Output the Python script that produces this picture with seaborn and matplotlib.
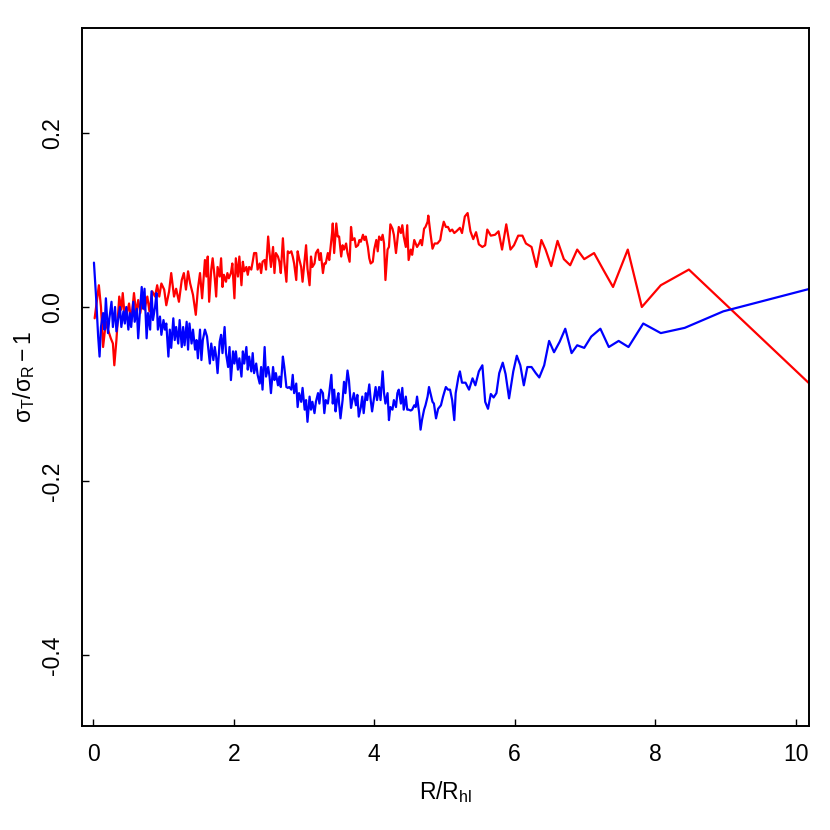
import numpy as np
import pandas as pd
import matplotlib
matplotlib.use("Agg")
import matplotlib.pyplot as plt
import seaborn as sns

# ─────────────────────────────────────────────
# Data (R / R_hl vs sigma_T/sigma_R - 1)
# ─────────────────────────────────────────────

red_r = [
    0.02, 0.08, 0.11, 0.14, 0.18, 0.21, 0.25, 0.28, 0.30, 0.33, 0.37, 0.40,
    0.42, 0.45, 0.48, 0.51, 0.54, 0.58, 0.61, 0.64, 0.67, 0.70, 0.73, 0.77,
    0.80, 0.84, 0.88, 0.91, 0.94, 0.97, 1.01, 1.04, 1.08, 1.11, 1.15, 1.18,
    1.22, 1.26, 1.29, 1.32, 1.35, 1.38, 1.42, 1.46, 1.49, 1.52, 1.55,
    1.59, 1.61, 1.63, 1.65, 1.68, 1.70, 1.73, 1.75, 1.77, 1.80, 1.82, 1.84,
    1.86, 1.89, 1.91, 1.93, 1.96, 1.98, 2.01, 2.03, 2.06, 2.08, 2.11, 2.13,
    2.15, 2.18, 2.20, 2.22, 2.25, 2.27, 2.29, 2.32, 2.34, 2.37, 2.39, 2.41,
    2.44, 2.46, 2.49, 2.51, 2.53, 2.56, 2.58, 2.60, 2.63, 2.65, 2.67, 2.70,
    2.72, 2.75, 2.77, 2.79, 2.82, 2.84, 2.86, 2.89, 2.91, 2.93, 2.96, 2.98,
    3.01, 3.03, 3.05, 3.08, 3.10, 3.12, 3.15, 3.17, 3.20, 3.22, 3.24, 3.27,
    3.29, 3.31, 3.34, 3.36,
    3.40, 3.41, 3.43, 3.46, 3.48, 3.50, 3.53, 3.55, 3.57, 3.60, 3.62, 3.65,
    3.67, 3.69, 3.72, 3.74, 3.77, 3.79, 3.81, 3.84, 3.86, 3.88, 3.91, 3.93,
    3.95, 3.98, 4.00, 4.03, 4.05, 4.07, 4.10, 4.12, 4.14, 4.16, 4.19, 4.21,
    4.23, 4.26, 4.28, 4.31, 4.33, 4.35, 4.38, 4.40, 4.42, 4.45, 4.47, 4.49,
    4.52, 4.54, 4.57, 4.59, 4.61, 4.64, 4.66, 4.68, 4.71, 4.73, 4.76, 4.77,
    4.80, 4.83, 4.86, 4.90, 4.94, 4.96, 4.99, 5.02, 5.05, 5.08, 5.11, 5.14,
    5.17, 5.22, 5.25, 5.29, 5.33, 5.37, 5.41, 5.45, 5.49, 5.54, 5.58, 5.61,
    5.66, 5.72, 5.77, 5.82, 5.88, 5.94, 5.99, 6.05, 6.11, 6.16, 6.24, 6.31,
    6.38, 6.44, 6.52, 6.61, 6.70, 6.79, 6.89, 6.99, 7.13, 7.26, 7.40, 7.61,
    7.81, 8.08, 8.48, 10.30,
]
red_y = [
    -0.013, 0.025, 0.000, -0.046, -0.017, -0.026, -0.036, -0.042, -0.067, -0.038, 0.012, -0.003,
    0.016, -0.013, -0.007, 0.004, -0.017, 0.016, -0.007, 0.008, -0.007, 0.010, -0.003, 0.012,
    -0.005, 0.018, 0.012, 0.025, 0.012, 0.027, 0.020, 0.002, 0.018, 0.039, 0.012, 0.021,
    0.006, 0.031, 0.039, 0.020, 0.041, 0.027, 0.014, -0.009, 0.021, 0.039, 0.010,
    0.054, 0.035, 0.058, 0.006, 0.043, 0.056, 0.033, 0.012, 0.046, 0.035, 0.056, 0.023,
    0.037, 0.029, 0.039, 0.033, 0.039, 0.050, 0.010, 0.056, 0.035, 0.058, 0.025, 0.052,
    0.041, 0.046, 0.037, 0.046, 0.043, 0.052, 0.062, 0.062, 0.043, 0.050, 0.039, 0.052,
    0.054, 0.043, 0.081, 0.062, 0.046, 0.069, 0.039, 0.062, 0.058, 0.052, 0.039, 0.079,
    0.052, 0.029, 0.064, 0.062, 0.064, 0.058, 0.050, 0.031, 0.064, 0.056, 0.046, 0.029,
    0.054, 0.071, 0.044, 0.025, 0.058, 0.046, 0.050, 0.062, 0.066, 0.054, 0.062, 0.039,
    0.050, 0.050, 0.062, 0.054,
    0.085, 0.096, 0.062, 0.096, 0.081, 0.081, 0.058, 0.071, 0.066, 0.073, 0.062, 0.052,
    0.092, 0.077, 0.079, 0.069, 0.071, 0.077, 0.075, 0.083, 0.077, 0.081, 0.069, 0.056,
    0.050, 0.052, 0.066, 0.077, 0.064, 0.081, 0.077, 0.083, 0.073, 0.031, 0.066, 0.069,
    0.095, 0.090, 0.083, 0.062, 0.077, 0.092, 0.085, 0.094, 0.081, 0.069, 0.094, 0.054,
    0.066, 0.060, 0.077, 0.073, 0.069, 0.073, 0.077, 0.071, 0.090, 0.092, 0.098, 0.105,
    0.085, 0.067, 0.073, 0.073, 0.077, 0.087, 0.098, 0.092, 0.092, 0.087, 0.089, 0.085,
    0.087, 0.091, 0.085, 0.104, 0.108, 0.087, 0.078, 0.086, 0.072, 0.069, 0.071, 0.089,
    0.082, 0.083, 0.087, 0.066, 0.095, 0.066, 0.071, 0.082, 0.082, 0.073, 0.069, 0.046,
    0.077, 0.066, 0.047, 0.076, 0.055, 0.048, 0.066, 0.055, 0.062, 0.043, 0.023, 0.066,
    0.000, 0.025, 0.043, -0.096,
]

blue_r = [
    0.01, 0.04, 0.07, 0.09, 0.11, 0.14, 0.16, 0.18, 0.21, 0.23, 0.26, 0.28,
    0.31, 0.33, 0.36, 0.38, 0.40, 0.43, 0.45, 0.47, 0.50, 0.52, 0.54, 0.57,
    0.59, 0.62, 0.64, 0.66, 0.69, 0.71, 0.73, 0.76, 0.78, 0.81, 0.83, 0.85,
    0.88, 0.90, 0.92, 0.95, 0.97, 1.00, 1.02, 1.04, 1.07, 1.09, 1.11, 1.14,
    1.16, 1.18, 1.21, 1.23, 1.26, 1.28, 1.30, 1.33, 1.35, 1.37, 1.40, 1.42,
    1.45, 1.47, 1.49, 1.52, 1.54, 1.56,
    1.59, 1.62, 1.64, 1.66, 1.68, 1.71, 1.73, 1.75, 1.77, 1.80, 1.82, 1.84,
    1.87, 1.89, 1.92, 1.94, 1.96, 1.99, 2.01, 2.03, 2.06, 2.08, 2.11, 2.13,
    2.15, 2.18, 2.20, 2.22, 2.25, 2.27, 2.29, 2.32, 2.34, 2.37, 2.39, 2.41,
    2.44, 2.46, 2.49, 2.51, 2.53, 2.56, 2.58, 2.60, 2.63, 2.65, 2.67, 2.70,
    2.72, 2.75, 2.77, 2.79, 2.82, 2.84, 2.86, 2.89, 2.91, 2.93, 2.96, 2.98,
    3.01, 3.03, 3.05, 3.08, 3.10, 3.12, 3.15, 3.17, 3.20, 3.22, 3.24, 3.27,
    3.29, 3.31, 3.34, 3.36,
    3.39, 3.41, 3.43, 3.45, 3.47, 3.49, 3.50, 3.52, 3.55, 3.57, 3.59, 3.62,
    3.64, 3.67, 3.69, 3.71, 3.74, 3.76, 3.78, 3.81, 3.83, 3.85, 3.88, 3.90,
    3.93, 3.95, 3.97, 4.00, 4.02, 4.04, 4.07, 4.09, 4.12, 4.14, 4.16, 4.19,
    4.21, 4.23, 4.26, 4.28, 4.31, 4.33, 4.35, 4.38, 4.40, 4.42, 4.45, 4.47,
    4.49, 4.52, 4.54, 4.57, 4.59, 4.61, 4.64, 4.66, 4.68, 4.71, 4.73, 4.76,
    4.78, 4.80, 4.83, 4.85, 4.88, 4.91, 4.95, 4.98, 5.02, 5.05, 5.08, 5.11,
    5.14, 5.16, 5.20, 5.22, 5.25, 5.30, 5.35, 5.40, 5.44, 5.49, 5.54, 5.58,
    5.62, 5.66, 5.70, 5.74, 5.78, 5.83, 5.87, 5.92, 5.98, 6.03, 6.08, 6.13,
    6.18, 6.24, 6.30, 6.35, 6.42, 6.49, 6.56, 6.64, 6.72, 6.81, 6.89, 6.99,
    7.09, 7.22, 7.34, 7.48, 7.62, 7.83, 8.08, 8.42, 8.97, 10.30,
]
blue_y = [
    0.051, 0.012, -0.034, -0.057, -0.023, -0.007, -0.026, 0.010, -0.030, -0.013, 0.006, -0.023,
    0.000, -0.028, -0.011, 0.000, -0.023, -0.005, -0.019, 0.000, -0.026, -0.007, -0.023, 0.006,
    -0.017, -0.002, -0.036, -0.011, 0.023, -0.002, 0.021, -0.036, -0.007, -0.026, 0.018, -0.015,
    0.000, 0.016, -0.026, -0.011, -0.032, -0.015, -0.026, -0.019, -0.057, -0.026, -0.047, -0.013,
    -0.038, -0.023, -0.042, -0.015, -0.046, -0.023, -0.044, -0.017, -0.049, -0.019, -0.042, -0.026,
    -0.049, -0.038, -0.059, -0.026, -0.061, -0.038,
    -0.026, -0.034, -0.049, -0.065, -0.042, -0.061, -0.046, -0.057, -0.076, -0.040, -0.032, -0.053,
    -0.023, -0.053, -0.069, -0.046, -0.084, -0.051, -0.065, -0.051, -0.072, -0.059, -0.080, -0.051,
    -0.065, -0.046, -0.072, -0.057, -0.074, -0.053, -0.076, -0.065, -0.078, -0.088, -0.069, -0.095,
    -0.046, -0.080, -0.069, -0.080, -0.099, -0.069, -0.084, -0.076, -0.090, -0.080, -0.092, -0.057,
    -0.069, -0.092, -0.093, -0.092, -0.095, -0.078, -0.099, -0.088, -0.115, -0.099, -0.109, -0.093,
    -0.118, -0.107, -0.132, -0.103, -0.118, -0.109, -0.122, -0.109, -0.099, -0.111, -0.095, -0.099,
    -0.122, -0.107, -0.111, -0.099,
    -0.078, -0.111, -0.095, -0.120, -0.107, -0.099, -0.111, -0.128, -0.107, -0.086, -0.099, -0.073,
    -0.084, -0.116, -0.107, -0.099, -0.113, -0.101, -0.126, -0.115, -0.103, -0.122, -0.099, -0.107,
    -0.089, -0.107, -0.120, -0.103, -0.092, -0.107, -0.092, -0.107, -0.074, -0.099, -0.111, -0.099,
    -0.130, -0.115, -0.118, -0.107, -0.115, -0.099, -0.095, -0.111, -0.093, -0.118, -0.103, -0.118,
    -0.118, -0.119, -0.118, -0.113, -0.115, -0.103, -0.122, -0.141, -0.130, -0.118, -0.113, -0.103,
    -0.092, -0.099, -0.109, -0.111, -0.128, -0.117, -0.113, -0.103, -0.092, -0.095, -0.095, -0.107,
    -0.130, -0.099, -0.080, -0.074, -0.087, -0.087, -0.095, -0.082, -0.090, -0.074, -0.067, -0.109,
    -0.117, -0.100, -0.104, -0.099, -0.076, -0.064, -0.077, -0.105, -0.074, -0.056, -0.067, -0.090,
    -0.069, -0.069, -0.076, -0.081, -0.067, -0.039, -0.052, -0.040, -0.025, -0.053, -0.044, -0.047,
    -0.034, -0.025, -0.046, -0.039, -0.046, -0.019, -0.030, -0.024, -0.005, 0.023,
]

x_ticks = [0, 2, 4, 6, 8, 10]
y_ticks = [-0.4, -0.2, 0.0, 0.2]
y_tick_labels = ["-0.4", "-0.2", "0.0", "0.2"]

# ─────────────────────────────────────────────
# Plot
# ─────────────────────────────────────────────

sns.set_style("ticks")
plt.rcParams["font.family"] = ["Liberation Sans", "DejaVu Sans"]
plt.rcParams["mathtext.fontset"] = "custom"
plt.rcParams["mathtext.rm"] = "Liberation Sans"
plt.rcParams["mathtext.it"] = "Liberation Sans:italic"
plt.rcParams["mathtext.sf"] = "Liberation Sans"
plt.rcParams["axes.unicode_minus"] = False
plt.rcParams["text.color"] = "black"
plt.rcParams["axes.labelcolor"] = "black"
plt.rcParams["xtick.color"] = "black"
plt.rcParams["ytick.color"] = "black"

df_red = pd.DataFrame({"r": red_r, "val": red_y})
df_blue = pd.DataFrame({"r": blue_r, "val": blue_y})

fig = plt.figure(figsize=(8.3, 8.3), dpi=100)
ax = fig.add_axes([0.0988, 0.1253, 0.8759, 0.8410])

sns.lineplot(data=df_red, x="r", y="val", color="#FF0000", linewidth=1.6,
             estimator=None, sort=False, ax=ax)
sns.lineplot(data=df_blue, x="r", y="val", color="#0000FF", linewidth=1.6,
             estimator=None, sort=False, ax=ax)

ax.set_xlim(-0.16, 10.19)
ax.set_ylim(-0.4816, 0.3207)

ax.set_xticks(x_ticks)
ax.set_xticklabels([str(t) for t in x_ticks], fontsize=16.5, color="black")
ax.set_yticks(y_ticks)
ax.set_yticklabels(y_tick_labels, fontsize=16.5, rotation=90, va="center",
                   color="black")
ax.tick_params(axis="x", direction="in", length=5, width=1.0, pad=12,
               color="black")
ax.tick_params(axis="y", direction="in", length=5, width=1.0, pad=13,
               color="black")

for sp in ax.spines.values():
    sp.set_visible(True)
    sp.set_linewidth(1.4)
    sp.set_color("black")

ax.set_xlabel(r"$\mathrm{R}/\mathrm{R}_{\mathrm{hl}}$", fontsize=16.5, color="black")
ax.set_ylabel(r"$\mathrm{σ}_{\mathrm{T}}/\mathrm{σ}_{\mathrm{R}} - 1$", fontsize=16.5,
              color="black")
ax.xaxis.set_label_coords(0.5, -0.076)
ax.yaxis.set_label_coords(-0.062, 0.5)

plt.savefig("out.png", dpi=100)
